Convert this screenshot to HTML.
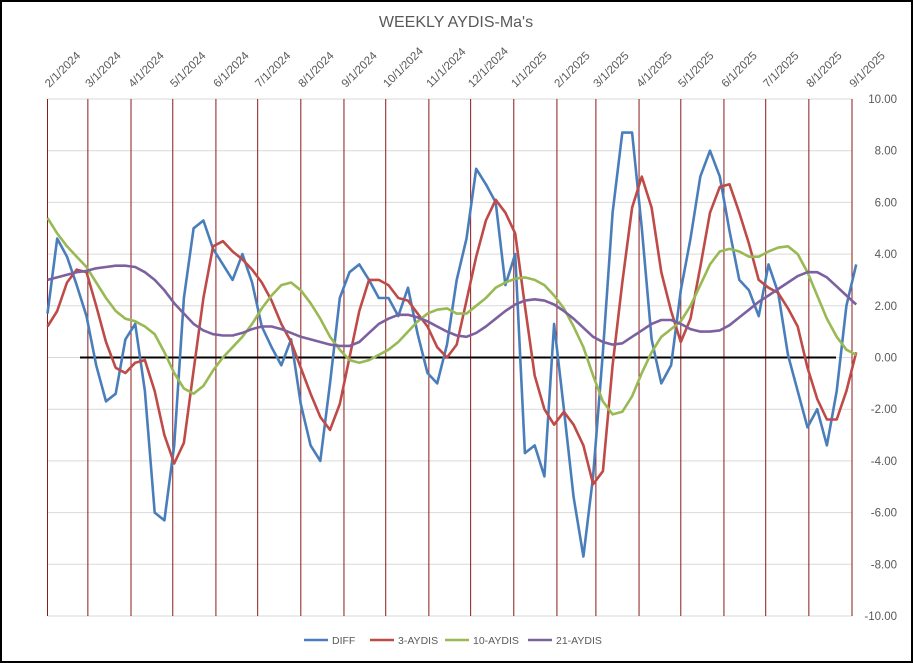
<!DOCTYPE html>
<html><head><meta charset="utf-8"><style>
body{margin:0;background:#fff;}
svg{display:block;font-family:"Liberation Sans",sans-serif;}
</style></head><body>
<svg id="c" width="913" height="663"></svg>
<script>
const monthLabels=["2/1/2024","3/1/2024","4/1/2024","5/1/2024","6/1/2024","7/1/2024","8/1/2024","9/1/2024","10/1/2024","11/1/2024","12/1/2024","1/1/2025","2/1/2025","3/1/2025","4/1/2025","5/1/2025","6/1/2025","7/1/2025","8/1/2025","9/1/2025"];
const yTicks=[10,8,6,4,2,0,-2,-4,-6,-8,-10];
const diff=[1.7,4.6,3.9,2.8,1.6,-0.3,-1.7,-1.4,0.7,1.3,-1.3,-6.0,-6.3,-3.4,2.3,5.0,5.3,4.2,3.6,3.0,4.0,2.9,1.2,0.4,-0.3,0.7,-1.8,-3.4,-4.0,-1.0,2.3,3.3,3.6,3.0,2.3,2.3,1.6,2.7,0.9,-0.6,-1.0,0.5,3.0,4.6,7.3,6.7,6.0,2.8,4.0,-3.7,-3.4,-4.6,1.3,-2.0,-5.4,-7.7,-4.6,0.2,5.6,8.7,8.7,5.0,0.7,-1.0,-0.3,2.6,4.6,7.0,8.0,7.0,4.9,3.0,2.6,1.6,3.6,2.5,0.1,-1.3,-2.7,-2.0,-3.4,-1.3,2.0,3.6];
const aydis3=[1.2,1.8,2.9,3.4,3.3,2.0,0.6,-0.4,-0.6,-0.2,-0.1,-1.3,-3.0,-4.1,-3.3,-0.5,2.3,4.3,4.5,4.1,3.8,3.4,2.9,2.2,1.3,0.6,-0.4,-1.4,-2.3,-2.8,-1.8,0.0,1.8,3.0,3.0,2.8,2.3,2.2,1.7,1.2,0.4,0.0,0.5,2.2,3.9,5.3,6.1,5.6,4.8,2.0,-0.7,-2.0,-2.6,-2.1,-2.6,-3.4,-4.9,-4.4,-0.3,2.9,5.8,7.0,5.8,3.3,1.8,0.6,1.5,3.5,5.6,6.6,6.7,5.6,4.4,3.0,2.7,2.5,1.9,1.2,-0.4,-1.6,-2.4,-2.4,-1.3,0.2];
const aydis10=[5.4,4.8,4.3,3.9,3.5,2.9,2.3,1.8,1.5,1.4,1.2,0.9,0.2,-0.6,-1.2,-1.4,-1.1,-0.5,0.0,0.4,0.8,1.3,1.9,2.4,2.8,2.9,2.6,2.1,1.5,0.8,0.3,-0.1,-0.2,-0.1,0.1,0.3,0.6,1.0,1.4,1.7,1.85,1.9,1.7,1.7,2.0,2.3,2.7,2.9,3.05,3.1,3.0,2.8,2.4,1.9,1.2,0.4,-0.7,-1.7,-2.2,-2.1,-1.5,-0.6,0.2,0.8,1.1,1.4,2.0,2.8,3.6,4.1,4.2,4.1,3.9,3.9,4.1,4.25,4.3,4.0,3.3,2.4,1.5,0.8,0.3,0.1];
const aydis21=[3.0,3.1,3.2,3.3,3.35,3.45,3.5,3.55,3.55,3.5,3.3,3.0,2.6,2.1,1.7,1.3,1.05,0.9,0.85,0.85,0.95,1.1,1.2,1.2,1.1,0.95,0.8,0.7,0.6,0.5,0.45,0.45,0.6,0.95,1.3,1.5,1.65,1.65,1.55,1.4,1.2,1.0,0.85,0.8,0.95,1.2,1.5,1.8,2.05,2.2,2.25,2.2,2.05,1.8,1.5,1.15,0.8,0.6,0.5,0.55,0.8,1.05,1.3,1.45,1.45,1.3,1.1,1.0,1.0,1.05,1.25,1.55,1.85,2.15,2.4,2.65,2.9,3.15,3.3,3.3,3.1,2.75,2.4,2.05];
const seriesNames=["DIFF","3-AYDIS","10-AYDIS","21-AYDIS"];
const seriesColors=["#4a7ebb","#be4b48","#98b954","#7d60a0"];
const NS="http://www.w3.org/2000/svg";
const svg=document.getElementById('c');
const L=47.5,R=852,T=99,B=616;
const start=Date.UTC(2024,1,1),end=Date.UTC(2025,8,1);
function xDate(ms){return L+(ms-start)/(end-start)*(R-L);}
function xWeek(i){return xDate(start+i*7*86400000);}
function y(v){return T+(10-v)/20*(B-T);}
function el(tag,attrs,parent){const e=document.createElementNS(NS,tag);for(const k in attrs)e.setAttribute(k,attrs[k]);(parent||svg).appendChild(e);return e;}
el('rect',{x:1,y:1,width:911,height:661,fill:'#fff',stroke:'#000','stroke-width':2});
const title=el('text',{x:456,y:27,'text-anchor':'middle','font-size':16,fill:'#595959'});
title.textContent="WEEKLY AYDIS-Ma's";


yTicks.forEach(t=>{
  const g=el('line',{x1:L,x2:R,y1:y(t),y2:y(t),stroke:'#d9d9d9','stroke-width':1});
  
  
  const tx=el('text',{x:897,y:y(t)+4,'text-anchor':'end','font-size':11.5,fill:'#595959'});
  tx.textContent=t.toFixed(2);
  
  
});
monthLabels.forEach(m=>{
  const p=m.split('/');const ms=Date.UTC(+p[2],+p[0]-1,+p[1]);const x=xDate(ms);
  const ln=el('line',{x1:x,x2:x,y1:T,y2:B,stroke:'#8b1a1a','stroke-width':1});
  
  
  const tx=el('text',{x:x+2,y:88,'font-size':11.5,fill:'#595959',transform:`rotate(-45 ${x+2} 88)`});
  tx.textContent=m;
  
  
});
const zl=el('line',{x1:80,x2:836,y1:y(0),y2:y(0),stroke:'#000','stroke-width':2});


[diff,aydis3,aydis10,aydis21].forEach((s,k)=>{
  const pts=s.map((v,i)=>xWeek(i).toFixed(1)+','+y(v).toFixed(1)).join(' ');
  const pl=el('polyline',{points:pts,fill:'none',stroke:seriesColors[k],'stroke-width':2.6,'stroke-linejoin':'round'});
  
  
});
const lx=[304,370,445,528];
seriesNames.forEach((n,k)=>{
  const g=el('g',{});
  
  
  el('line',{x1:lx[k],x2:lx[k]+24,y1:640,y2:640,stroke:seriesColors[k],'stroke-width':2.6},g);
  const t=el('text',{x:lx[k]+28,y:644,'font-size':10.5,fill:'#595959'},g);
  t.textContent=n;
});
</script>
</body></html>
